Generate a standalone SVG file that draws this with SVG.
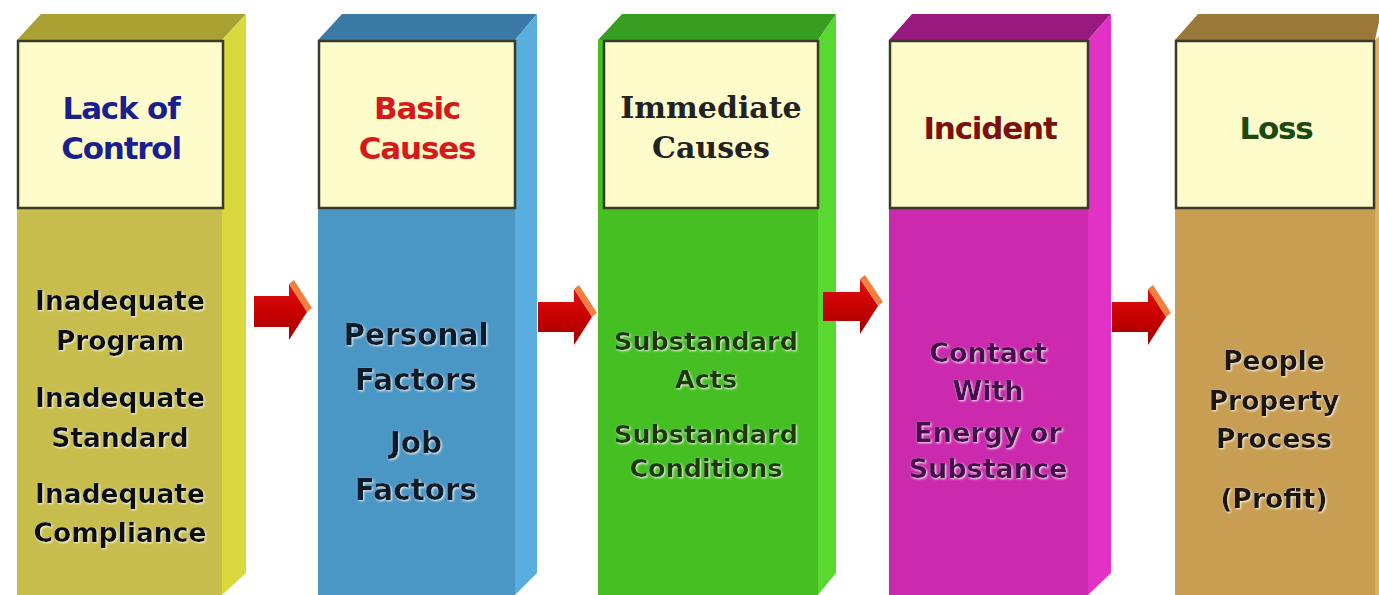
<svg xmlns="http://www.w3.org/2000/svg" width="1379" height="595" viewBox="0 0 1379 595">
<defs>
<filter id="halo" x="-10%" y="-20%" width="120%" height="140%">
<feDropShadow dx="1" dy="1" stdDeviation="0.8" flood-color="#ffffff" flood-opacity="0.9"/>
</filter>
<linearGradient id="arrowGrad" x1="0" y1="0" x2="0" y2="1">
<stop offset="0" stop-color="#e01010"/>
<stop offset="0.5" stop-color="#c80000"/>
<stop offset="1" stop-color="#a00000"/>
</linearGradient>
</defs>
<style>
.label{fill:#fffccc;stroke:#3a3a2a;stroke-width:2.5}
.hdr{font-family:"DejaVu Sans","Liberation Sans",sans-serif;font-weight:bold;font-size:31px;text-anchor:middle;letter-spacing:-1.2px}
.hdrserif{font-family:"DejaVu Serif","Liberation Serif",serif;font-weight:bold;font-size:30px;text-anchor:middle}
.body{font-family:"DejaVu Sans","Noto Sans",sans-serif;font-weight:bold;text-anchor:middle;filter:url(#halo)}
.arrow{fill:url(#arrowGrad)}
.bevel{fill:#f08040}
</style>
<rect width="1379" height="595" fill="#ffffff"/>

<g id="lack-of-control">
<polygon points="41,14 246,14 222,40 17,40" fill="#a9a232"/>
<polygon points="222,40 246,14 246,573 222,595" fill="#d9d83e"/>
<rect x="17" y="40" width="205" height="555" fill="#c6bd4c"/>
<rect class="label" x="18" y="41" width="205" height="167"/>
<text class="hdr" x="121" y="119" fill="#1a1f8c">Lack of</text>
<text class="hdr" x="121" y="159" fill="#1a1f8c">Control</text>
<g class="body" font-size="26.5" fill="#111">
<text x="120" y="310">Inadequate</text>
<text x="120" y="350">Program</text>
<text x="120" y="407">Inadequate</text>
<text x="120" y="447">Standard</text>
<text x="120" y="503">Inadequate</text>
<text x="120" y="542">Compliance</text>
</g>
</g>

<g id="basic-causes">
<polygon points="342,14 537,14 515,40 318,40" fill="#3c7aa6"/>
<polygon points="515,40 537,14 537,573 515,595" fill="#5aaede"/>
<rect x="318" y="40" width="197" height="555" fill="#4a97c6"/>
<rect class="label" x="319" y="41" width="196" height="167"/>
<text class="hdr" x="417" y="119" fill="#d41a1a">Basic</text>
<text class="hdr" x="417" y="159" fill="#d41a1a">Causes</text>
<g class="body" font-size="29.5" fill="#0e1a2a">
<text x="416" y="345">Personal</text>
<text x="416" y="390">Factors</text>
<text x="416" y="453">Job</text>
<text x="416" y="500">Factors</text>
</g>
</g>

<g id="immediate-causes">
<polygon points="622,14 836,14 818,40 598,40" fill="#379e22"/>
<polygon points="818,40 836,14 836,573 818,595" fill="#5ad832"/>
<rect x="598" y="40" width="220" height="555" fill="#45bf22"/>
<rect class="label" x="604" y="41" width="214" height="167"/>
<text class="hdrserif" x="711" y="118" fill="#222">Immediate</text>
<text class="hdrserif" x="711" y="158" fill="#222">Causes</text>
<g class="body" font-size="25.5" fill="#1a3a00">
<text x="706" y="350">Substandard</text>
<text x="706" y="388">Acts</text>
<text x="706" y="443">Substandard</text>
<text x="706" y="477">Conditions</text>
</g>
</g>

<g id="incident">
<polygon points="912,14 1111,14 1088,40 889,40" fill="#991a7e"/>
<polygon points="1088,40 1111,14 1111,573 1088,595" fill="#e232c6"/>
<rect x="889" y="40" width="199" height="555" fill="#cb2aae"/>
<rect class="label" x="890" y="41" width="198" height="167"/>
<text class="hdr" x="990" y="139" fill="#7a1010">Incident</text>
<g class="body" font-size="27" fill="#4a1050">
<text x="988" y="362">Contact</text>
<text x="988" y="400">With</text>
<text x="988" y="442">Energy or</text>
<text x="988" y="478">Substance</text>
</g>
</g>

<g id="loss">
<polygon points="1198,14 1379,14 1379,22 1375,40 1175,40" fill="#99783a"/>
<polygon points="1375,40 1379,36 1379,595 1375,595" fill="#dab064"/>
<rect x="1175" y="40" width="200" height="555" fill="#c89f52"/>
<rect class="label" x="1176" y="41" width="198" height="167"/>
<text class="hdr" x="1276" y="139" fill="#1a4a10">Loss</text>
<g class="body" font-size="26.5" fill="#1a1408">
<text x="1274" y="370">People</text>
<text x="1274" y="410">Property</text>
<text x="1274" y="448">Process</text>
<text x="1274" y="508">(Profit)</text>
</g>
</g>

<g id="connectors">
<g id="arrow-1">
<polygon class="bevel" points="289,284 294,280 312,308 307,312"/>
<polygon class="arrow" points="254,296 289,296 289,284 307,312 289,340 289,327 254,327"/>
</g>
<g id="arrow-2">
<polygon class="bevel" points="574,289 579,285 597,313 592,317"/>
<polygon class="arrow" points="538,302 574,302 574,289 592,317 574,345 574,332 538,332"/>
</g>
<g id="arrow-3">
<polygon class="bevel" points="860,279 865,275 883,302 878,306"/>
<polygon class="arrow" points="823,292 860,292 860,279 878,306 860,334 860,321 823,321"/>
</g>
<g id="arrow-4">
<polygon class="bevel" points="1148,289 1153,285 1171,313 1166,317"/>
<polygon class="arrow" points="1112,302 1148,302 1148,289 1166,317 1148,345 1148,332 1112,332"/>
</g>
</g>
</svg>
